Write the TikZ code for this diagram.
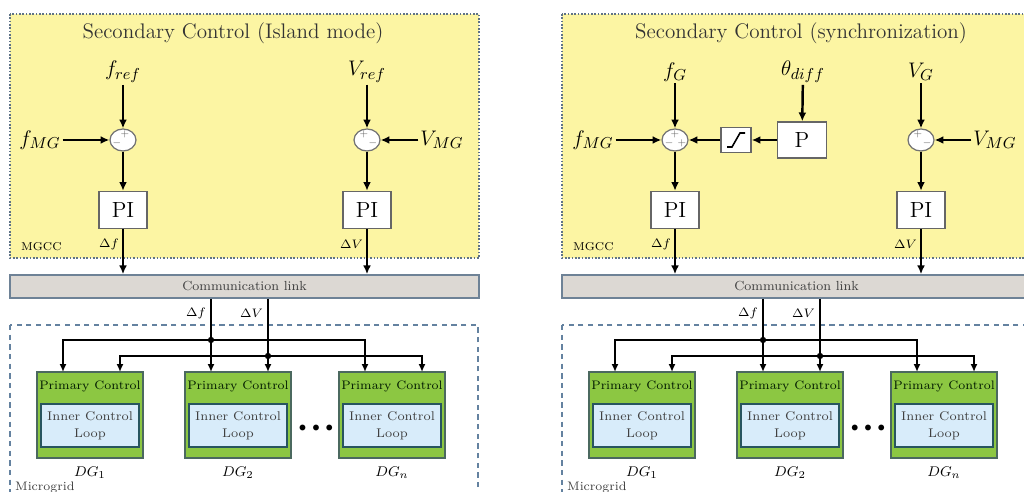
\documentclass[tikz,border=0pt]{standalone}
\usetikzlibrary{arrows.meta,shapes.geometric,positioning}

\definecolor{mgccfill}{RGB}{252,245,163}
\definecolor{mgccline}{RGB}{95,115,135}
\definecolor{linkfill}{RGB}{220,216,211}
\definecolor{linkline}{RGB}{110,130,150}
\definecolor{pcgreen}{RGB}{140,199,66}
\definecolor{pcline}{RGB}{75,105,95}
\definecolor{iclfill}{RGB}{216,236,250}
\definecolor{iclline}{RGB}{40,85,95}
\definecolor{mgline}{RGB}{100,130,160}

\begin{document}
\begin{tikzpicture}[x=0.02cm,y=-0.02cm,
  sig/.style={-{Latex[length=5pt,width=4.5pt]},line width=1.4pt},
  bsig/.style={-{Latex[length=4.5pt,width=4pt]},line width=1.2pt},
  sumnode/.style={ellipse,draw=black!55,fill=white,line width=0.7pt,minimum width=0.52cm,minimum height=0.44cm,inner sep=0pt},
  sgn/.style={font=\fontsize{5}{5}\selectfont,text=black!60,inner sep=0pt},
  piblock/.style={draw=black!60,fill=white,line width=0.8pt,minimum width=0.96cm,minimum height=0.74cm,font=\fontsize{12.5}{14}\selectfont},
  satblock/.style={draw=black!60,fill=white,line width=0.8pt,minimum width=0.6cm,minimum height=0.5cm},
  insig/.style={font=\fontsize{13}{15}\selectfont,inner sep=1pt},
  small/.style={font=\fontsize{7}{8}\selectfont,inner sep=1pt},
  titletxt/.style={font=\fontsize{12}{14}\selectfont,text=black!80},
  linkbox/.style={draw=linkline,fill=linkfill,line width=0.9pt,minimum width=9.38cm,minimum height=0.46cm,font=\fontsize{7.5}{9}\selectfont,text=black!75},
  pcbox/.style={draw=pcline,fill=pcgreen,line width=0.9pt,minimum width=2.12cm,minimum height=1.72cm},
  iclbox/.style={draw=iclline,fill=iclfill,line width=0.9pt,minimum width=1.72cm,minimum height=0.86cm,align=center,font=\fontsize{7.2}{9.5}\selectfont,text=black!75},
  pctxt/.style={font=\fontsize{7}{9}\selectfont,text=black!75!green!40!black,inner sep=0pt}]
\useasboundingbox (0,0) rectangle (1024,492);
\clip (0,0) rectangle (1024,492);

% secondary control, island mode
\begin{scope}
  \draw[mgccline,densely dotted,line width=0.9pt,fill=mgccfill] (10,14) rectangle (479,258);
  \node[titletxt] (istitle) at (233,33) {Secondary Control (Island mode)};
  \node[small,anchor=west,font=\fontsize{6.5}{8}\selectfont] (ismgcc) at (19,247) {MGCC};

  \node[insig] (isfref) at (123,72) {$f_{ref}$};
  \node[sumnode] (isfsum) at (123,140) {};
  \node[insig] (isfmg) at (40,140) {$f_{MG}$};
  \node[piblock] (isfpi) at (123,210) {PI};
  \node[small,anchor=east] (isdf) at (121,244) {$\Delta f$};
  \node[sgn] (isfp) at (125,134) {$+$};
  \node[sgn] (isfm) at (117,143) {$-$};

  \node[insig] (isvref) at (367,72) {$V_{ref}$};
  \node[sumnode] (isvsum) at (367,140) {};
  \node[insig] (isvmg) at (442,140) {$V_{MG}$};
  \node[piblock] (isvpi) at (367,210) {PI};
  \node[small,anchor=east] (isdv) at (365,244) {$\Delta V$};
  \node[sgn] (isvp) at (364,134) {$+$};
  \node[sgn] (isvm) at (373,143) {$-$};

  \draw[sig] (isfref) -- (isfsum);
  \draw[sig] (isfmg) -- (isfsum);
  \draw[sig] (isfsum) -- (isfpi);
  \draw[sig] (isvref) -- (isvsum);
  \draw[sig] (isvmg) -- (isvsum);
  \draw[sig] (isvsum) -- (isvpi);
\end{scope}

% secondary control, synchronization
\begin{scope}[shift={(552,0)}]
  \draw[mgccline,densely dotted,line width=0.9pt,fill=mgccfill] (10,14) rectangle (479,258);
  \node[titletxt] (sytitle) at (249,33) {Secondary Control (synchronization)};
  \node[small,anchor=west,font=\fontsize{6.5}{8}\selectfont] (symgcc) at (19,247) {MGCC};

  \node[insig] (syfg) at (123,72) {$f_G$};
  \node[sumnode] (syfsum) at (123,140) {};
  \node[insig] (syfmg) at (41,140) {$f_{MG}$};
  \node[piblock] (syfpi) at (123,210) {PI};
  \node[small,anchor=east] (sydf) at (121,244) {$\Delta f$};
  \node[sgn] (syfp) at (123,134) {$+$};
  \node[sgn] (syfm) at (117,143) {$-$};
  \node[sgn] (syfq) at (130,143) {$+$};

  \node[insig] (sytheta) at (251,72) {$\theta_{diff}$};
  \node[draw=black!60,fill=white,line width=0.8pt,minimum width=0.98cm,minimum height=0.72cm,font=\fontsize{12.5}{14}\selectfont] (syp) at (250,140) {P};
  \node[satblock] (sysat) at (184,140) {};
  \draw[line width=0.9pt] (175,147) -- (180,147) -- (188,133) -- (193,133);

  \node[insig] (syvg) at (369,72) {$V_G$};
  \node[sumnode] (syvsum) at (369,140) {};
  \node[insig] (syvmg) at (443,140) {$V_{MG}$};
  \node[piblock] (syvpi) at (369,210) {PI};
  \node[small,anchor=east] (sydv) at (367,244) {$\Delta V$};
  \node[sgn] (syvp) at (366,134) {$+$};
  \node[sgn] (syvm) at (375,143) {$-$};

  \draw[sig] (syfg) -- (syfsum);
  \draw[sig] (syfmg) -- (syfsum);
  \draw[sig] (syfsum) -- (syfpi);
  \draw[sig] (sytheta) -- (syp);
  \draw[sig] (syp) -- (sysat);
  \draw[sig] (sysat) -- (syfsum);
  \draw[sig] (syvg) -- (syvsum);
  \draw[sig] (syvmg) -- (syvsum);
  \draw[sig] (syvsum) -- (syvpi);
\end{scope}

% communication link and microgrid, same in both halves
\foreach \p/\dx in {is/0,sy/552} {
\begin{scope}[shift={(\dx,0)}]
  \node[linkbox] (\p link) at (244.5,286.5) {Communication link};
  \draw[mgline,dashed,line width=0.9pt,dash pattern=on 3pt off 2.5pt] (10,325) rectangle (478,520);
  \node[small,anchor=west,text=black!75] (\p mg) at (13,487) {Microgrid};

  \foreach \i/\cx/\n in {1/90/1,2/238/2,3/392/n} {
    \node[pcbox] (\p dg\i) at (\cx,415) {};
    \node[pctxt] (\p pc\i) at (\cx,386) {Primary Control};
    \node[iclbox] (\p icl\i) at (\cx,425.5) {Inner Control\\Loop};
    \node[font=\fontsize{8}{9}\selectfont] (\p name\i) at (\cx,473) {$DG_{\n}$};
    \coordinate (\p fin\i) at (\cx-27,372);
    \coordinate (\p vin\i) at (\cx+30,372);
  }
  \node[font=\fontsize{8}{9}\selectfont] (\p dots) at (316,428) {$\bullet\,\bullet\,\bullet$};

  \coordinate (\p fjoin) at (211,340);
  \coordinate (\p vjoin) at (268,356);
  \node[small,anchor=east] (\p dfl) at (208,313) {$\Delta f$};
  \node[small,anchor=east] (\p dvl) at (265,313) {$\Delta V$};

  \draw[bsig] (\p link.south -| \p fin2) -- (\p fin2);
  \draw[bsig] (\p link.south -| \p vin2) -- (\p vin2);
  \draw[bsig] (\p fjoin) -| (\p fin1);
  \draw[bsig] (\p fjoin) -| (\p fin3);
  \draw[bsig] (\p vjoin) -| (\p vin1);
  \draw[bsig] (\p vjoin) -| (\p vin3);
  \fill (\p fjoin) circle (1.8pt);
  \fill (\p vjoin) circle (1.8pt);

  \draw[sig] (\p fpi) -- (\p fpi |- \p link.north);
  \draw[sig] (\p vpi) -- (\p vpi |- \p link.north);
\end{scope}
}
\end{tikzpicture}
\end{document}
